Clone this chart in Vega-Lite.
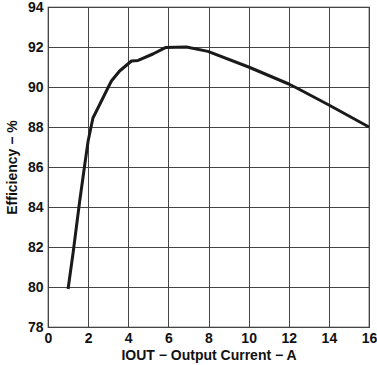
{
  "$schema": "https://vega.github.io/schema/vega-lite/v6.json",
  "width": 321,
  "height": 320,
  "autosize": {"type": "none"},
  "padding": {"left": 48, "top": 7, "right": 8, "bottom": 38},
  "background": "white",
  "config": {
    "font": "Liberation Sans",
    "view": {"stroke": "#222", "strokeWidth": 1.2},
    "axis": {
      "labelFont": "Liberation Sans",
      "labelFontWeight": "bold",
      "labelFontSize": 14,
      "labelColor": "#111",
      "titleFont": "Liberation Sans",
      "titleFontWeight": "bold",
      "titleFontSize": 14,
      "titleColor": "#111",
      "gridColor": "#444",
      "gridWidth": 1,
      "gridOpacity": 1,
      "domain": false,
      "ticks": false
    }
  },
  "data": {
    "values": [
      {"i": 1.0, "eff": 79.9},
      {"i": 1.25, "eff": 81.7},
      {"i": 1.58, "eff": 84.3},
      {"i": 1.83, "eff": 86.1},
      {"i": 2.0, "eff": 87.3},
      {"i": 2.24, "eff": 88.45},
      {"i": 2.49, "eff": 88.95},
      {"i": 2.91, "eff": 89.8},
      {"i": 3.16, "eff": 90.3},
      {"i": 3.57, "eff": 90.8},
      {"i": 4.16, "eff": 91.3},
      {"i": 4.49, "eff": 91.33},
      {"i": 5.23, "eff": 91.65},
      {"i": 5.85, "eff": 91.97},
      {"i": 6.9, "eff": 92.0},
      {"i": 7.97, "eff": 91.78},
      {"i": 10.0, "eff": 91.0},
      {"i": 12.0, "eff": 90.15},
      {"i": 12.4, "eff": 89.95},
      {"i": 14.0, "eff": 89.1},
      {"i": 16.0, "eff": 88.0}
    ]
  },
  "mark": {"type": "line", "color": "#1a1a1a", "strokeWidth": 3, "strokeJoin": "round"},
  "encoding": {
    "x": {
      "field": "i",
      "type": "quantitative",
      "scale": {"domain": [0, 16], "nice": false},
      "axis": {"values": [0, 2, 4, 6, 8, 10, 12, 14, 16], "title": "IOUT − Output Current − A", "labelPadding": 4, "titlePadding": 3, "labelFlush": false}
    },
    "y": {
      "field": "eff",
      "type": "quantitative",
      "scale": {"domain": [78, 94], "nice": false, "zero": false},
      "axis": {"values": [78, 80, 82, 84, 86, 88, 90, 92, 94], "title": "Efficiency − %", "labelPadding": 5, "titlePadding": 8, "labelFlush": false}
    }
  }
}
